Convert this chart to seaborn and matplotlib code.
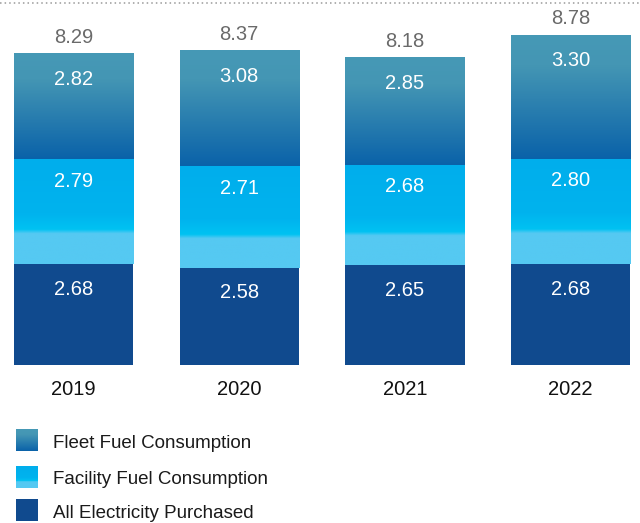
import numpy as np
import pandas as pd
import matplotlib
matplotlib.use('Agg')
import matplotlib.pyplot as plt
from matplotlib.colors import LinearSegmentedColormap
import seaborn as sns

# data
years = ['2019', '2020', '2021', '2022']
electricity = [2.68, 2.58, 2.65, 2.68]
facility = [2.79, 2.71, 2.68, 2.80]
fleet = [2.82, 3.08, 2.85, 3.30]
totals = [8.29, 8.37, 8.18, 8.78]
series = ['Fleet Fuel Consumption', 'Facility Fuel Consumption', 'All Electricity Purchased']

ELEC = '#104a8e'
fleet_cmap = LinearSegmentedColormap.from_list(
    'fleet', [(0, '#4699b6'), (0.25, '#4496b4'), (1, '#0a62a9')])
fac_cmap = LinearSegmentedColormap.from_list(
    'fac', [(0, '#00aeec'), (0.52, '#00b3ee'), (0.67, '#00c2f2'),
            (0.71, '#55c9f2'), (1, '#55c9f2')])

sns.set_theme(style='white')
plt.rcParams['font.family'] = ['Liberation Sans', 'DejaVu Sans']

df = pd.DataFrame({'Year': years, 'Electricity': electricity,
                   'Facility': facility, 'Fleet': fleet})
df['lower2'] = df['Electricity'] + df['Facility']
df['total'] = df['lower2'] + df['Fleet']

fig = plt.figure(figsize=(6.4, 5.23), dpi=100)
px = 37.6  # pixels per unit
ax = fig.add_axes([0, 158 / 523, 1, 365 / 523])

# classic seaborn stacking: draw cumulative sums on top of each other
bar_kw = dict(width=0.72, saturation=1, ax=ax, errorbar=None, linewidth=0)
sns.barplot(data=df, x='Year', y='total', color='#4699b6', **bar_kw)
sns.barplot(data=df, x='Year', y='lower2', color='#00aeec', **bar_kw)
sns.barplot(data=df, x='Year', y='Electricity', color=ELEC, **bar_kw)

grad = np.linspace(0, 1, 256).reshape(-1, 1)
for cont, lo_col, hi_col, cmap in [(ax.containers[0], 'lower2', 'total', fleet_cmap),
                                   (ax.containers[1], 'Electricity', 'lower2', fac_cmap)]:
    for i, patch in enumerate(cont.patches):
        x0 = patch.get_x()
        w = patch.get_width()
        lo, hi = df[lo_col][i], df[hi_col][i]
        im = ax.imshow(grad, cmap=cmap, aspect='auto', origin='upper',
                       extent=[x0, x0 + w, lo, hi], zorder=2)
        im.set_clip_path(patch)

xmin = -73.5 / 165.7
ax.set_xlim(xmin, xmin + 640 / 165.7)
ax.set_ylim(0, 365 / px)

# dotted rule at the top
ax.axhline((365 - 3) / px, color='#9a9a9a', lw=1.1, linestyle=(0, (1, 2)))

# value labels inside segments
for i in range(len(years)):
    for top, val, off in [(df['total'][i], fleet[i], 24),
                          (df['lower2'][i], facility[i], 20),
                          (electricity[i], electricity[i], 23)]:
        ax.annotate(f'{val:.2f}', xy=(i, top), xytext=(0, -off * 0.72),
                    textcoords='offset points', ha='center', va='center_baseline',
                    color='white', fontsize=14.5, zorder=5)
    ax.annotate(f'{totals[i]:.2f}', xy=(i, df['total'][i]), xytext=(0, 18 * 0.72),
                textcoords='offset points', ha='center', va='center_baseline',
                color='#6a6a6a', fontsize=14.5, zorder=5)

sns.despine(ax=ax, left=True, bottom=True)
ax.set_yticks([])
ax.set_xlabel('')
ax.set_ylabel('')
ax.tick_params(axis='x', length=0, pad=11, labelsize=14.5, labelcolor='#111111')

# legend with gradient swatches, in pixel coords
lax = fig.add_axes([0, 0, 1, 1], zorder=-1)
lax.set_xlim(0, 640)
lax.set_ylim(523, 0)
lax.axis('off')
swatches = [fleet_cmap, fac_cmap, None]
centers = [440, 477, 510]
for name, cmap, cy in zip(series, swatches, centers):
    if cmap is None:
        lax.add_patch(plt.Rectangle((16, cy - 11), 22, 22, color=ELEC, lw=0))
    else:
        lax.imshow(grad, cmap=cmap, aspect='auto', origin='upper',
                   extent=[16, 38, cy + 11, cy - 11])
    lax.text(53, cy + 1, name, ha='left', va='center_baseline', fontsize=13.5,
             color='#1a1a1a')
lax.set_xlim(0, 640)
lax.set_ylim(523, 0)

fig.savefig('out.png', dpi=100)
